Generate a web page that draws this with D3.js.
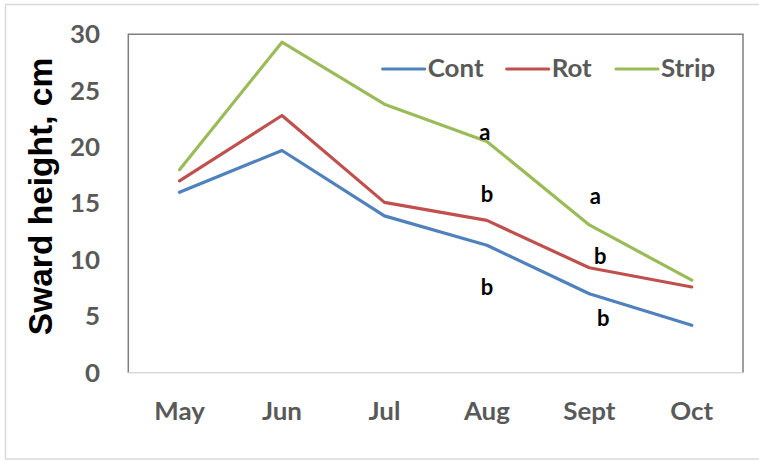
<!DOCTYPE html>
<html><head><meta charset="utf-8">
<script src="https://cdn.jsdelivr.net/npm/d3@7"></script>
<style>body{margin:0;background:#fff}svg{display:block}</style>
</head><body>
<svg id="c" width="759" height="462"></svg>
<script>
const months = ["May","Jun","Jul","Aug","Sept","Oct"];
const cont  = [16.0, 19.7, 13.9, 11.3, 7.0, 4.2];
const rot   = [17.0, 22.8, 15.1, 13.5, 9.3, 7.6];
const strip = [18.0, 29.3, 23.8, 20.5, 13.1, 8.2];
const seriesNames = ["Cont","Rot","Strip"];
const seriesColors = ["#4F81BD","#C0504D","#9BBB59"];
const yTicks = [0,5,10,15,20,25,30];
// significance letters
const letterMonths = ["Aug","Aug","Aug","Sept","Sept","Sept"];
const letterValues = [21.3, 15.8, 7.6, 15.6, 10.3, 4.8];
const letterTexts  = ["a","b","b","a","b","b"];
const letterOffsets = [-2, 0, 0, 6, 11, 14];

const svg = d3.select("#c");
const L=128.3, T=34.3, R=743, B=372.7;
const x = d3.scaleBand().domain(months).range([L,R]);
const y = d3.scaleLinear().domain([0,30]).range([B,T]);
const SX = 1.08;

svg.append("rect").attr("x",5.5).attr("y",4.5).attr("width",800).attr("height",454.5)
  .attr("fill","none").attr("stroke","#d9d9d9").attr("stroke-width",1.5);

svg.append("path").attr("d",`M${L},${B}V${T}H${R}V${B}`).attr("fill","none")
  .attr("stroke","#7f7f7f").attr("stroke-width",1.5);
svg.append("line").attr("x1",L).attr("x2",R).attr("y1",B).attr("y2",B)
  .attr("stroke","#d9d9d9").attr("stroke-width",1.5);

const yAxis = d3.axisLeft(y).tickValues(yTicks).tickSize(0).tickPadding(0);
const ya = svg.append("g").attr("transform",`translate(100,0)`).call(yAxis);
ya.select(".domain").remove();
ya.selectAll("text").attr("font-family","Lato, sans-serif").attr("font-weight","bold")
  .attr("font-size",24).attr("fill","#595959").attr("dy","0.35em")
  .attr("transform",`scale(${SX},1)`);

const xAxis = d3.axisBottom(x).tickSize(0).tickPadding(0);
const xa = svg.append("g").attr("transform",`translate(0,412)`).call(xAxis);
xa.select(".domain").remove();
xa.selectAll("text").attr("font-family","Lato, sans-serif").attr("font-weight","bold")
  .attr("font-size",24).attr("fill","#595959").attr("dy","0.35em")
  .attr("transform",`scale(${SX},1)`);

svg.append("text").attr("transform","translate(40,196.5) rotate(-90)")
  .attr("text-anchor","middle").attr("dy","0.35em")
  .attr("font-family","Liberation Sans, Arial, sans-serif").attr("font-weight","bold")
  .attr("font-size",33.5).attr("fill","#000").text("Sward height, cm");

const data = [cont, rot, strip];
const line = d3.line().x((d,i)=>x(months[i])+x.bandwidth()/2).y(d=>y(d));
data.forEach((s,k)=>{
  svg.append("path").datum(s).attr("d",line).attr("fill","none")
    .attr("stroke",seriesColors[k]).attr("stroke-width",3.2)
    .attr("stroke-linejoin","round").attr("stroke-linecap","round");
});

letterTexts.forEach((t,i)=>{
  svg.append("text").attr("x",x(letterMonths[i])+x.bandwidth()/2+letterOffsets[i])
    .attr("y",y(letterValues[i])).attr("dy","0.35em").attr("text-anchor","middle")
    .attr("font-family","Lato, sans-serif").attr("font-weight","bold")
    .attr("font-size",22).attr("fill","#000").text(t);
});

const legX = [382.7, 506.7, 616];
seriesNames.forEach((n,k)=>{
  const g = svg.append("g");
  g.append("line").attr("x1",legX[k]).attr("x2",legX[k]+42).attr("y1",69).attr("y2",69)
    .attr("stroke",seriesColors[k]).attr("stroke-width",3.2).attr("stroke-linecap","round");
  g.append("g").attr("transform",`translate(${legX[k]+45},69) scale(${SX},1)`)
    .append("text").attr("dy","0.35em")
    .attr("font-family","Lato, sans-serif").attr("font-weight","bold")
    .attr("font-size",24).attr("fill","#595959").text(n);
});
</script>
</body></html>
